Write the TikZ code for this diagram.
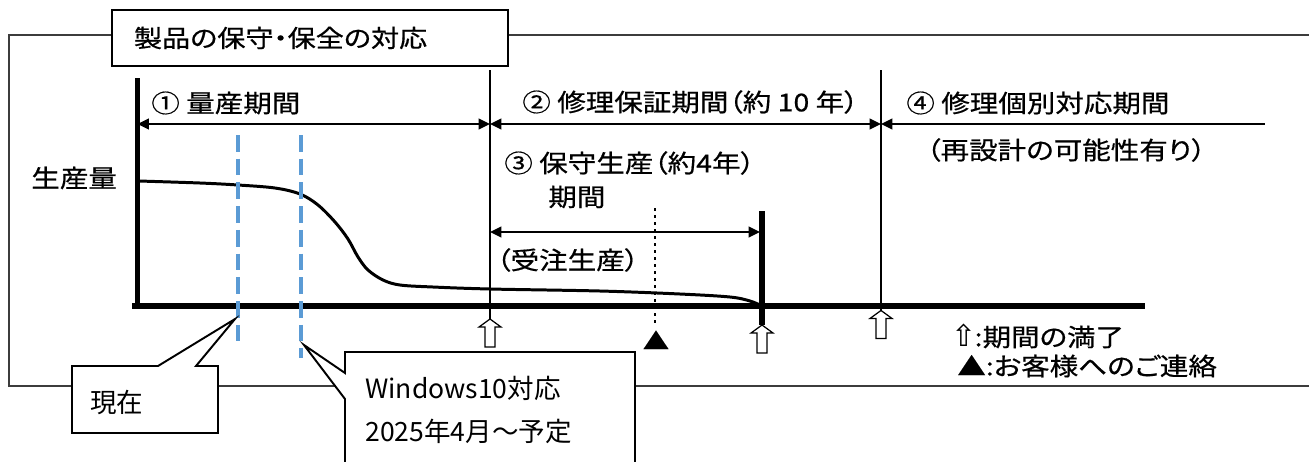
\documentclass[tikz,border=0pt]{standalone}
\usepackage{fontspec}
\newfontfamily\jpfont[FakeStretch=1.16, FakeBold=0.6, RawFeature=+palt]{Noto Sans CJK JP}
\newfontfamily\winfont{Noto Sans CJK JP}
\newfontfamily\symfont{DejaVu Sans}
\usetikzlibrary{arrows.meta}

\definecolor{framegray}{HTML}{3C3C3C}
\definecolor{nowblue}{HTML}{5B9BD5}

\tikzset{
  txt/.style={font=\jpfont\fontsize{14}{16}\selectfont, inner sep=0pt, anchor=west},
  wintxt/.style={font=\winfont\fontsize{15.1}{17}\selectfont, inner sep=0pt, anchor=west},
  period/.style={line width=1.4pt, {Triangle[length=6.5pt,width=6pt]}-{Triangle[length=6.5pt,width=6pt]}},
  thinline/.style={line width=0.8pt},
  bluedash/.style={nowblue, line width=2.3pt, dash pattern=on 9.5pt off 4pt},
  callout/.style={draw, fill=white, line width=1.1pt, line join=miter},
  hollowup/.pic={
    \draw[line width=0.7pt, fill=white] (0,0) -- (11,8) -- (5,8) -- (5,28)
      -- (-5,28) -- (-5,8) -- (-11,8) -- cycle;
  }
}

\begin{document}
\begin{tikzpicture}[x=0.02cm, y=-0.02cm]

\useasboundingbox (0,0) rectangle (1309,461);
\clip (0,0) rectangle (1309,461);

% outer frame
\draw[framegray, line width=0.85pt] (1320,35) -- (9,35) -- (9,386) -- (1320,386);

\node[draw, fill=white, line width=1.1pt, anchor=north west, minimum width=7.92cm,
  minimum height=1.12cm, text width=7.04cm, inner xsep=0.44cm, align=left,
  font=\jpfont\fontsize{13.8}{16}\selectfont] (title) at (111,9) {製品の保守・保全の対応};

% axes
\coordinate (ytop) at (137.5,78);
\coordinate (origin) at (137.5,306);
\coordinate (xend) at (1145,306);
\draw[line width=2.8pt] (ytop) -- (origin);
\draw[line width=3.4pt] ([xshift=-3]origin) -- (xend);

\node[txt] (yq) at (31,178) {生産量};

% period boundaries
\coordinate (b2top) at (490,70);
\coordinate (b2bot) at (490,319);
\coordinate (b4top) at (881,70);
\coordinate (b4bot) at (881,321);
\coordinate (b3top) at (762,211);
\coordinate (b3bot) at (762,325);
\draw[thinline] (b2top) -- (b2bot);
\draw[thinline] (b4top) -- (b4bot);
\draw[line width=3.6pt] (b3top) -- (b3bot);

% production curve
\draw[line width=1.7pt, line cap=round] plot[smooth, tension=0.55] coordinates {
  (139,181) (200,183) (238,185) (275,188) (300,194) (318,205) (335,222)
  (348,239) (358,257) (368,270) (383,280) (400,285) (433,287) (490,289)
  (600,291) (680,294) (730,297) (750,301) (762,306)};

% period arrows
\coordinate (p1l) at (137.5,124);
\coordinate (p1r) at (490,124);
\coordinate (p2r) at (881,124);
\coordinate (p4r) at (1265,124);
\coordinate (p3l) at (490,232);
\coordinate (p3r) at (760,232);
\draw[period] (p1l) -- (p1r);
\draw[period] (p1r) -- (p2r);
\draw[line width=1.4pt, {Triangle[length=6.5pt,width=6pt]}-] (p2r) -- (p4r);
\draw[period] (p3l) -- (p3r);

\node[txt] (p1) at (151,103) {① 量産期間};
\node[txt] (p2) at (522,102) {② 修理保証期間（約 10 年）};
\node[txt] (p4) at (906,103) {④ 修理個別対応期間};
\node[txt] (p4b) at (926,150) {（再設計の可能性有り）};
\node[txt] (p3) at (504,163) {③ 保守生産（約4年）};
\node[txt] (p3b) at (548,197) {期間};
\node[txt] (p3c) at (496,260) {（受注生産）};

% customer contact
\coordinate (cttop) at (655,208);
\coordinate (ctbot) at (655,324);
\draw[line width=1.1pt, dash pattern=on 1.6pt off 2.4pt] (cttop) -- (ctbot);
\node[font=\jpfont\fontsize{13}{14}\selectfont, inner sep=0pt] (contact) at (656,340) {▲};

% period ends
\pic at (b2bot) {hollowup};
\pic at (b3bot) {hollowup};
\pic at ([yshift=6]b4bot) {hollowup};

% legend
\node[txt] (leg1) at (951,336) {{\symfont\fontsize{17}{17}\selectfont ⇧}\kern-1pt:期間の満了};
\node[txt] (leg2) at (957,366) {▲:お客様へのご連絡};

% now and Windows10 markers
\coordinate (nowtop) at (238,135);
\coordinate (nowbot) at (238,345);
\coordinate (wintop) at (301,135);
\coordinate (winbot) at (301,358);
\draw[bluedash] (nowtop) -- (nowbot);
\draw[bluedash] (wintop) -- (winbot);

% callouts
\coordinate (nowtip) at (235,319);
\draw[callout] (72,366) -- (158,366) -- (nowtip) -- (196,366) -- (218,366)
  -- (218,433) -- (72,433) -- cycle;
\node[wintxt] (now) at (90,402) {現在};

\coordinate (wintip) at (304,345);
\draw[callout] (345,352) -- (345,373) -- (wintip) -- (345,399) -- (345,480)
  -- (635,480) -- (635,352) -- cycle;
\node[wintxt] (win1) at (365,388) {Windows10対応};
\node[wintxt] (win2) at (365,431) {2025年4月～予定};

\end{tikzpicture}
\end{document}
